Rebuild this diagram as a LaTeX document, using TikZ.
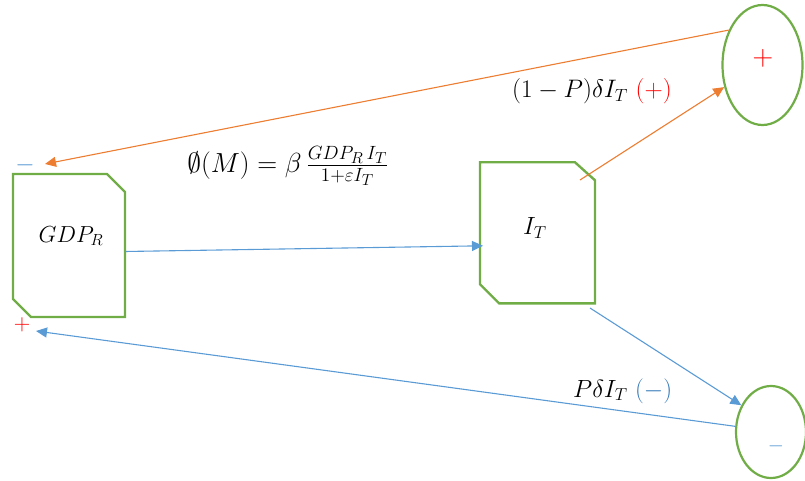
\documentclass[tikz,border=0pt]{standalone}
\usepackage{amsmath}
\usetikzlibrary{shapes.geometric,arrows.meta,calc}
\definecolor{grn}{HTML}{70AD47}
\definecolor{org}{HTML}{ED7D31}
\definecolor{blu}{HTML}{5B9BD5}
\definecolor{dblu}{HTML}{2E75B6}
\definecolor{rd}{HTML}{FF0000}
\tikzset{
  boxnode/.style={draw=none, rectangle, inner sep=0pt, outer sep=0pt},
  boxline/.style={draw=grn, line width=2.4pt, line join=miter},
  oval/.style={draw=grn, line width=2.2pt, ellipse, inner sep=0pt},
  lbl/.style={font=\huge, inner sep=0pt},
  oarr/.style={draw=org, line width=1.1pt, -{Triangle[length=11pt,width=10pt]}},
  barr/.style={draw=blu, line width=1.1pt, -{Triangle[length=11pt,width=10pt]}},
}
\begin{document}
\begin{tikzpicture}[x=1pt,y=-1pt]
\useasboundingbox (0,0) rectangle (805,481);
% boxes
\node[boxnode, minimum width=112pt, minimum height=143pt] (gdp) at (69,245.5) {};
\node[boxnode, minimum width=115pt, minimum height=141pt] (it) at (537.5,232.8) {};
\draw[boxline] (gdp.north west) -- ([xshift=-18pt]gdp.north east) -- ([yshift=-18pt]gdp.north east)
  -- (gdp.south east) -- ([xshift=18pt]gdp.south west) -- ([yshift=18pt]gdp.south west) -- cycle;
\draw[boxline] (it.north west) -- ([xshift=-20pt]it.north east) -- ([yshift=-18pt]it.north east)
  -- (it.south east) -- ([xshift=19pt]it.south west) -- ([yshift=19pt]it.south west) -- cycle;
\node[lbl] (gdpl) at (71,236) {\scalebox{1.12}{$GDP_R$}};
\node[lbl] (itl) at (535,228) {\scalebox{1.2}{$I_T$}};
% ellipses
\node[oval, minimum width=80pt, minimum height=120pt] (ep) at (762.5,65) {};
\node[oval, minimum width=70pt, minimum height=92pt] (eb) at (771,432) {};
\node[font=\Huge, text=rd, inner sep=0pt] (epl) at (763,58) {\scalebox{1.15}{$+$}};
\node[font=\huge, text=blu, inner sep=0pt] (ebl) at (776,446) {$-$};
% signs near GDP box
\node[font=\Huge, text=blu, inner sep=0pt] (gm) at (25,165) {$-$};
\node[font=\huge, text=rd, inner sep=0pt] (gp) at (22,325) {\scalebox{1.1}{$+$}};
% coordinates
\coordinate (a1e) at (45,164);
\coordinate (a2s) at (580,180);
\coordinate (a4s) at (590,308);
\coordinate (a5e) at (36,331);
% connectors
\draw[oarr] (ep.134) -- (a1e);
\draw[oarr] (a2s) -- (ep.210);
\draw[barr] ($(gdp.east)+(0,6)$) -- ($(it.west)+(3,13)$);
\draw[barr] (a4s) -- (eb.138);
\draw[barr] (eb.171) -- (a5e);
% labels
\node[lbl] (phi) at (288,166) {\scalebox{1.33}{$\emptyset(M)=\beta\,\frac{GDP_R\,I_T}{1+\varepsilon I_T}$}};
\node[lbl, anchor=west] (l1) at (512,91) {\scalebox{1.22}{$(1-P)\delta I_T$ \textcolor{rd}{$(+)$}}};
\node[lbl, anchor=west] (l2) at (573,391) {\scalebox{1.2}{$P\delta I_T$ \textcolor{dblu}{$(-)$}}};
\end{tikzpicture}
\end{document}
